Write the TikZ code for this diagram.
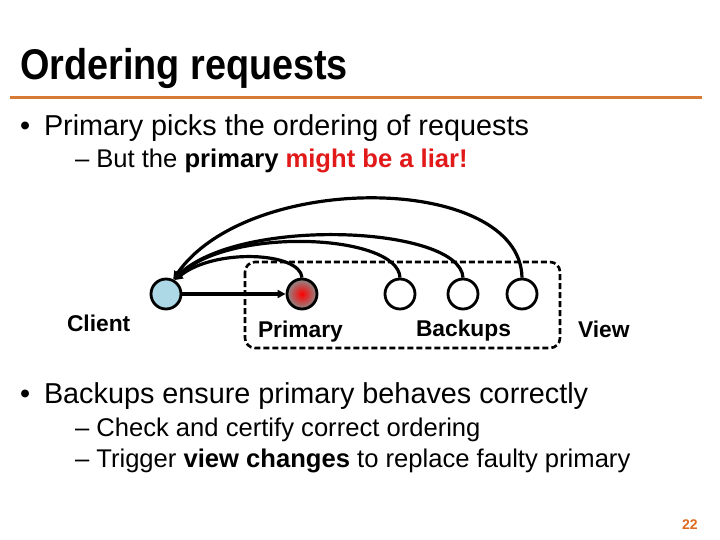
\documentclass[tikz,border=0pt]{standalone}
\usepackage{fontspec}
\setmainfont{Liberation Sans}
\usetikzlibrary{arrows.meta}
\definecolor{orangeline}{RGB}{214,122,52}
\definecolor{pagenum}{RGB}{221,106,30}
\definecolor{liarred}{RGB}{225,25,25}
\definecolor{clientblue}{RGB}{173,216,230}
\definecolor{primgray}{RGB}{140,140,140}
\begin{document}
\begin{tikzpicture}[x=1pt,y=-1pt,
  txt/.style={anchor=base west, inner sep=0pt, outer sep=0pt},
  big/.style={txt, font=\fontsize{28.8}{34}\selectfont},
  small/.style={txt, font=\fontsize{25.6}{30}\selectfont},
  lbl/.style={txt, font=\fontsize{22.8}{27}\selectfont\bfseries},
  proc/.style={circle, draw, line width=2.8pt, minimum size=30pt, inner sep=0pt},
  conn/.style={line width=3.2pt, -{Triangle[length=8pt,width=8pt]}}]
\useasboundingbox (0,0) rectangle (720,540);
% title
\node[txt] (title) at (20,80) {\scalebox{0.88}[1]{\fontsize{43}{50}\selectfont\bfseries Ordering requests}};
\coordinate (ruleL) at (10,98);
\coordinate (ruleR) at (702,98);
\draw[orangeline, line width=3pt] (ruleL) -- (ruleR);
% bullets
\node[big] (d1) at (20,136) {•};
\node[big] (t1) at (44,136) {Primary picks the ordering of requests};
\node[small] (t2) at (75,168) {– But the \textbf{primary} \textcolor{liarred}{\textbf{might be a liar!}}};
\node[big] (d3) at (20,403) {•};
\node[big] (t3) at (44,403) {Backups ensure primary behaves correctly};
\node[small] (t4) at (75,436) {– Check and certify correct ordering};
\node[small] (t5) at (75,467) {– Trigger \textbf{view changes} to replace faulty primary};
\node[txt, font=\fontsize{14}{16}\selectfont\bfseries, text=pagenum] (num) at (682,529) {22};
% view box
\draw[line width=2.6pt, rounded corners=10pt, dash pattern=on 6pt off 3pt] (245,262) rectangle (560,348);
% processes
\node[proc, fill=clientblue] (c) at (166,294) {};
\node[proc, shade, inner color=red, outer color=primgray] (p) at (302,294) {};
\node[proc, fill=white] (b1) at (400,294) {};
\node[proc, fill=white] (b2) at (463,294) {};
\node[proc, fill=white] (b3) at (522,294) {};
% labels
\node[lbl] (lc) at (67,331) {Client};
\node[lbl] (lp) at (258,337) {Primary};
\node[lbl] (lb) at (416,336) {Backups};
\node[lbl] (lv) at (578,337) {View};
% connectors
\draw[conn] (c) -- (p);
\draw[conn] (p.north) .. controls (300,252) and (215,248) .. (c.58);
\draw[conn] (b1.north) .. controls (398,234) and (230,226) .. (c.60);
\draw[conn] (b2.north) .. controls (460,226) and (240,216) .. (c.62);
\draw[conn] (b3.north) .. controls (520,174) and (250,170) .. (c.64);
\end{tikzpicture}
\end{document}
